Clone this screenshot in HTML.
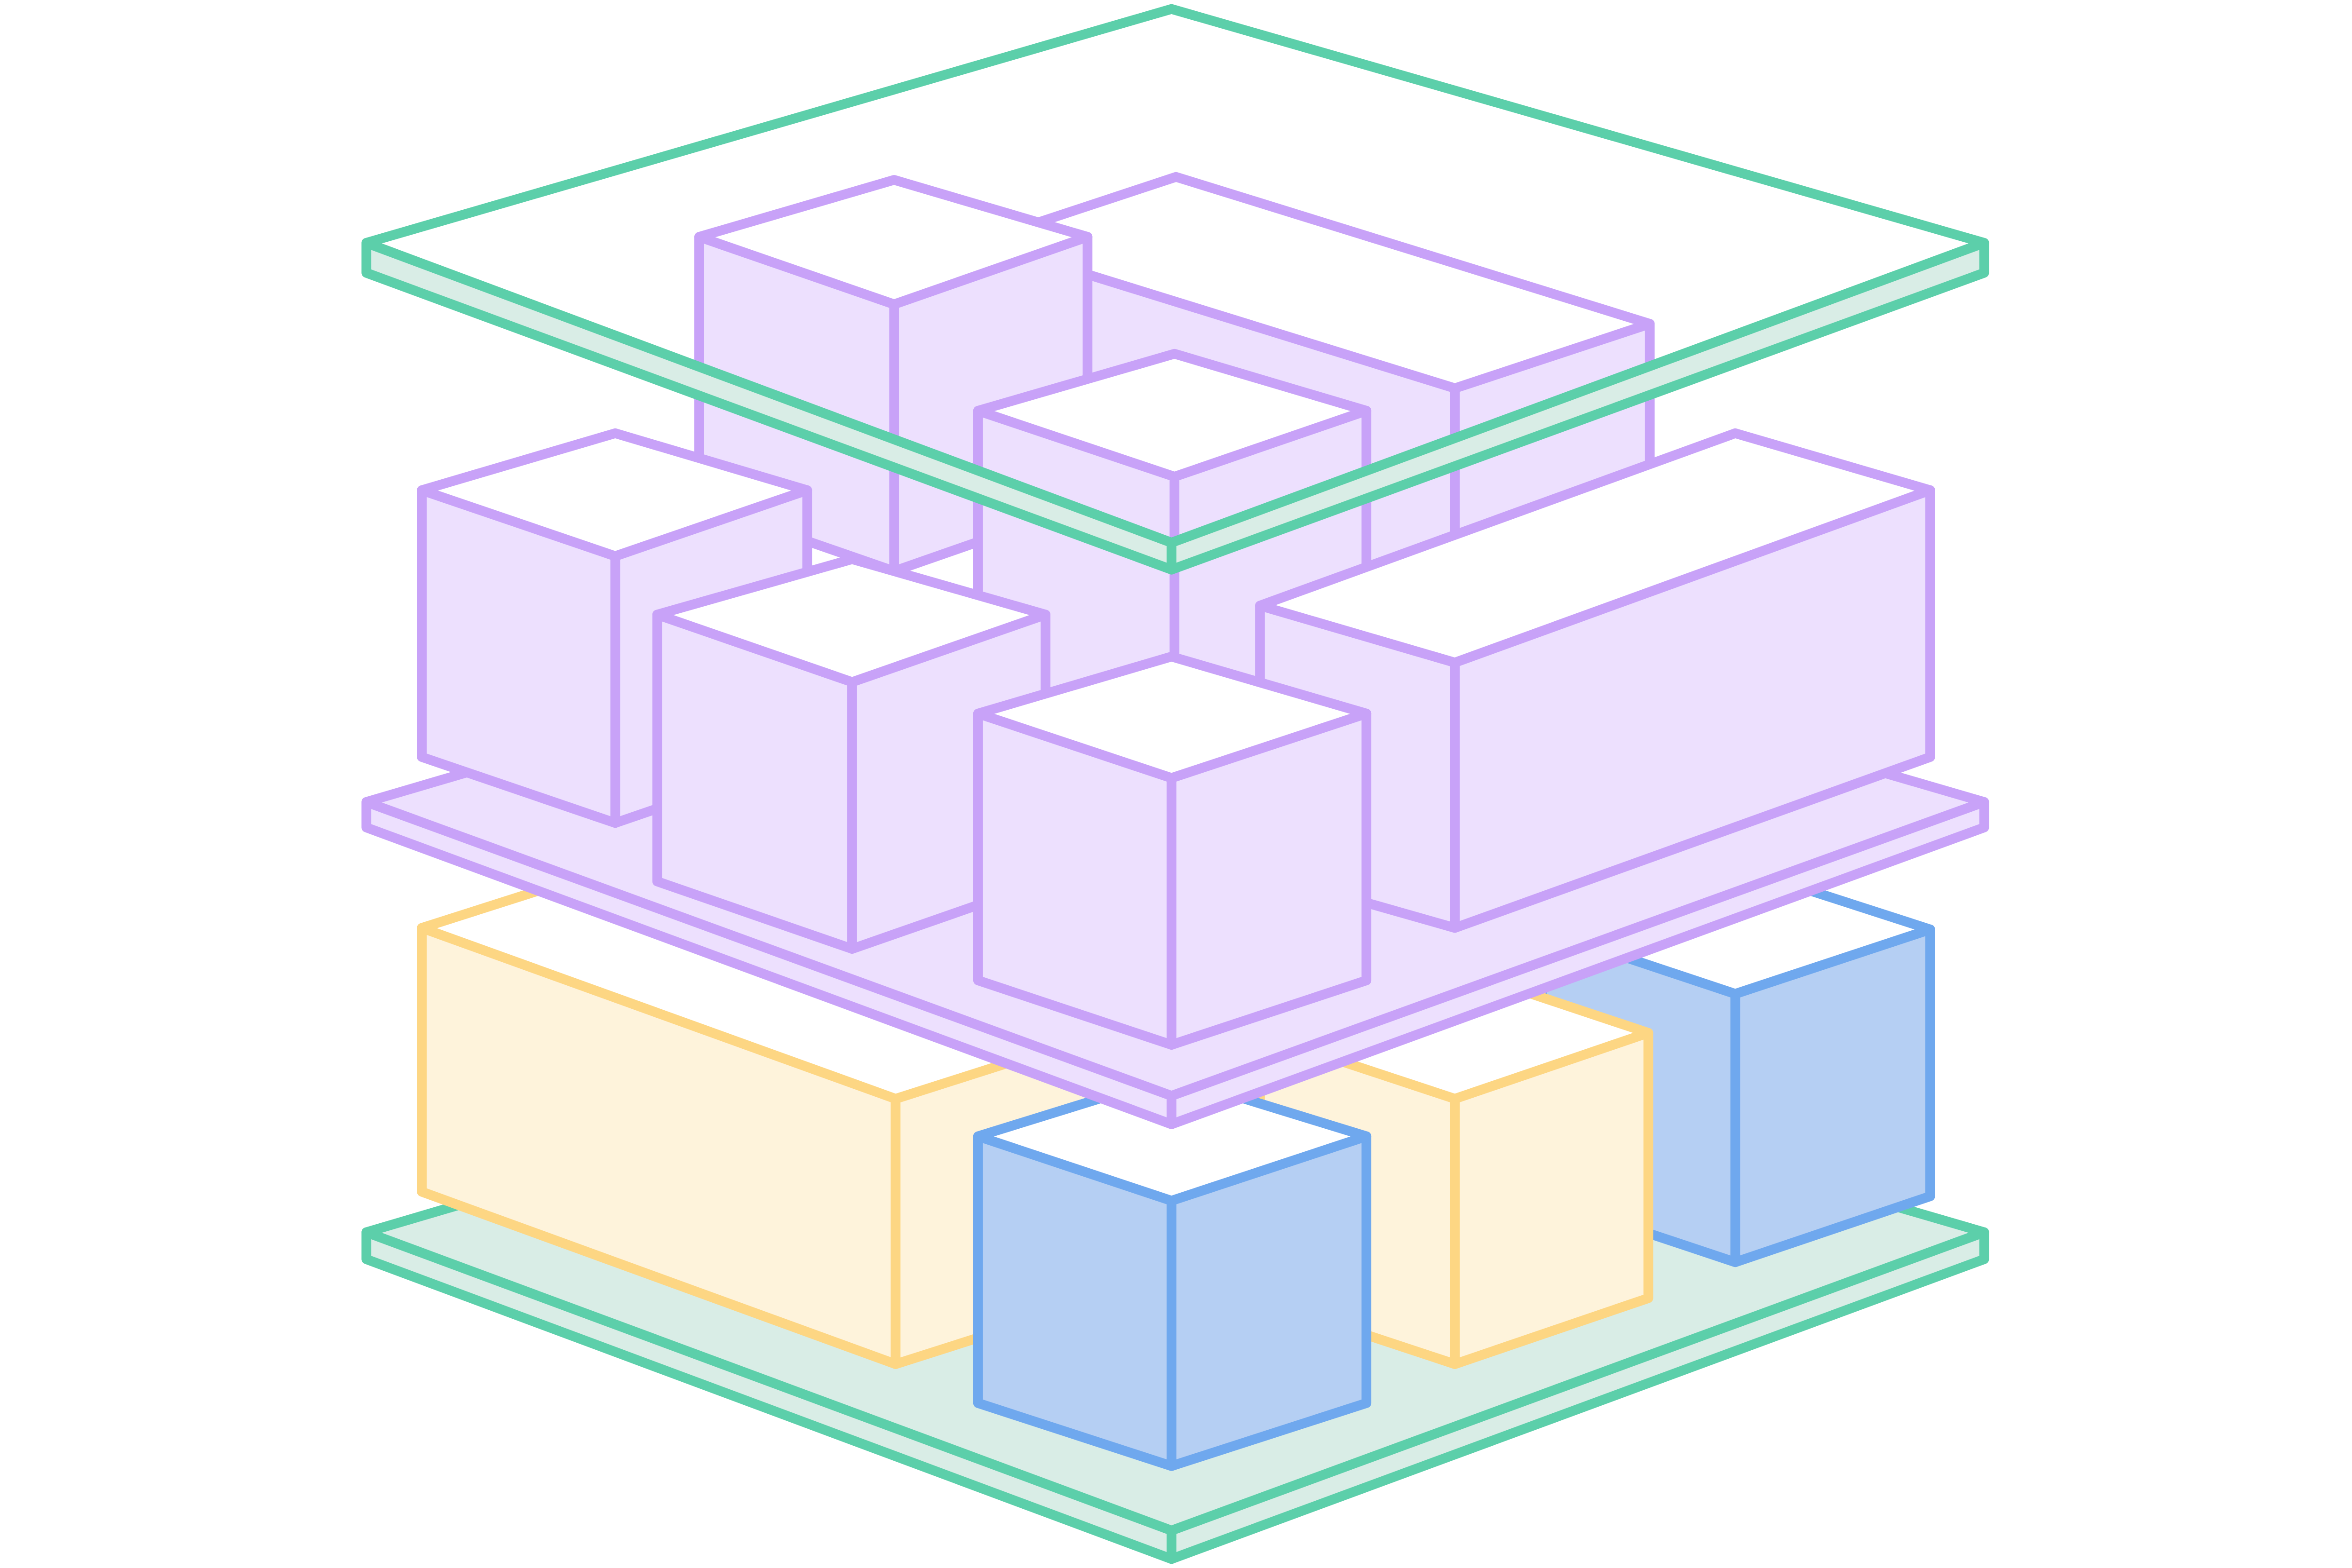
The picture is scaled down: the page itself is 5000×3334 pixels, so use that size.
<!DOCTYPE html>
<html><head><meta charset="utf-8"><style>
html,body{margin:0;padding:0;background:#fff;}
svg{display:block;}
</style></head><body>
<svg width="5000" height="3334" viewBox="0 0 1568 1046" xmlns="http://www.w3.org/2000/svg" stroke-linejoin="round" stroke-linecap="round" stroke-width="6.5">
<!-- bottom green plate -->
<g stroke="#5ccfaa" fill="#d9ede6">
<polygon points="244,822 781,1021 781,1040 244,840"/>
<polygon points="781,1021 1323,822 1323,840 781,1040"/>
<polygon points="244,822 781,664 1323,822 781,1021"/>
</g>
<!-- yellow big -->
<g stroke="#fdd683">
<polygon fill="#fef3db" points="281,619 597,733 597,910 281,795"/>
<polygon fill="#fef3db" points="597,733 763,680 763,857 597,910"/>
<polygon fill="#fff" points="281,619 447,566 763,680 597,733"/>
</g>
<!-- blue back -->
<g stroke="#6fa8ee">
<polygon fill="#b5cff3" points="1028,620 1157,663 1157,842 1028,799"/>
<polygon fill="#b5cff3" points="1157,663 1287,620 1287,798 1157,842"/>
<polygon fill="#fff" points="1028,620 1157,578 1287,620 1157,663"/>
</g>
<!-- yellow right -->
<g stroke="#fdd683">
<polygon fill="#fef3db" points="840,690 970,733 970,910 840,867"/>
<polygon fill="#fef3db" points="970,733 1099,689 1099,866 970,910"/>
<polygon fill="#fff" points="840,690 970,646 1099,689 970,733"/>
</g>
<!-- blue front -->
<g stroke="#6fa8ee">
<polygon fill="#b5cff3" points="652,758 781,801 781,978 652,936"/>
<polygon fill="#b5cff3" points="781,801 911,758 911,936 781,978"/>
<polygon fill="#fff" points="652,758 781,718 911,758 781,801"/>
</g>
<!-- purple plate -->
<g stroke="#c8a2f8" fill="#ede0fe">
<polygon points="244,535 781,731 781,750 244,552"/>
<polygon points="781,731 1323,535 1323,552 781,750"/>
<polygon points="244,535 781,377 1323,535 781,731"/>
</g>
<!-- purple boxes -->
<g stroke="#c8a2f8">
<!-- A big back -->
<polygon fill="#ede0fe" points="654,161 970,259 970,437 654,339"/>
<polygon fill="#ede0fe" points="970,259 1100,216 1100,394 970,437"/>
<polygon fill="#fff" points="654,161 784,118 1100,216 970,259"/>
<!-- B tall -->
<polygon fill="#ede0fe" points="466,158 596,203 596,381 466,336"/>
<polygon fill="#ede0fe" points="596,203 725,158 725,336 596,381"/>
<polygon fill="#fff" points="466,158 596,120 725,158 596,203"/>
<!-- C middle -->
<polygon fill="#ede0fe" points="652,274 783,318 783,496 652,452"/>
<polygon fill="#ede0fe" points="783,318 911,274 911,452 783,496"/>
<polygon fill="#fff" points="652,274 783,236 911,274 783,318"/>
<!-- D left -->
<polygon fill="#ede0fe" points="281,327 410,371 410,549 281,505"/>
<polygon fill="#ede0fe" points="410,371 538,327 538,505 410,549"/>
<polygon fill="#fff" points="281,327 410,289 538,327 410,371"/>
<!-- F big right -->
<polygon fill="#ede0fe" points="840,404 970,442 970,619 840,582"/>
<polygon fill="#ede0fe" points="970,442 1287,327 1287,505 970,619"/>
<polygon fill="#fff" points="840,404 1157,289 1287,327 970,442"/>
<!-- E -->
<polygon fill="#ede0fe" points="438,410 568,455 568,633 438,588"/>
<polygon fill="#ede0fe" points="568,455 697,410 697,588 568,633"/>
<polygon fill="#fff" points="438,410 568,373 697,410 568,455"/>
<!-- G front -->
<polygon fill="#ede0fe" points="652,476 781,519 781,697 652,654"/>
<polygon fill="#ede0fe" points="781,519 911,476 911,654 781,697"/>
<polygon fill="#fff" points="652,476 781,438 911,476 781,519"/>
</g>
<!-- top green plate -->
<g stroke="#5ccfaa">
<polygon fill="#d9ede6" points="244,162 781,362 781,380 244,182"/>
<polygon fill="#d9ede6" points="781,362 1323,162 1323,182 781,380"/>
<polygon fill="none" points="244,162 781,6 1323,162 781,362"/>
</g>
</svg>
</body></html>
